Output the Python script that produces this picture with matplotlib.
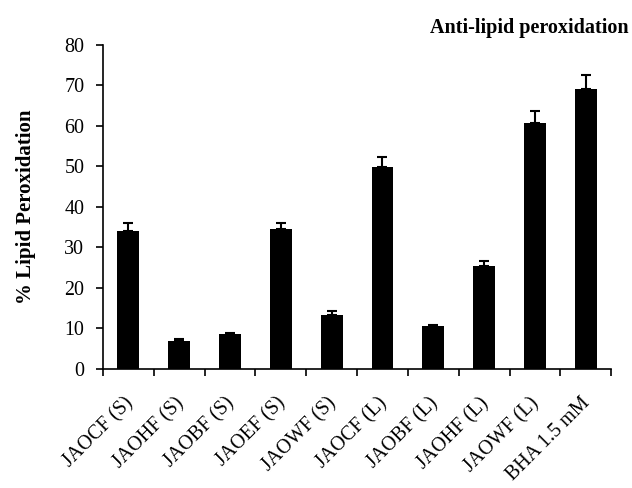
"""Anti-lipid peroxidation bar chart."""

import matplotlib

matplotlib.use("Agg")
import matplotlib.pyplot as plt
import matplotlib.transforms as mtransforms
import numpy as np

categories = [
    "JAOCF (S)", "JAOHF (S)", "JAOBF (S)", "JAOEF (S)", "JAOWF (S)",
    "JAOCF (L)", "JAOBF (L)", "JAOHF (L)", "JAOWF (L)", "BHA 1.5 mM",
]
values = [34.1, 7.0, 8.5, 34.6, 13.3, 49.9, 10.5, 25.3, 60.7, 69.1]
errors = [1.9, 0.4, 0.4, 1.4, 1.0, 2.4, 0.4, 1.4, 3.0, 3.5]
yticks = [0, 10, 20, 30, 40, 50, 60, 70, 80]

plt.rcParams["font.family"] = ["Liberation Serif", "DejaVu Serif"]

fig = plt.figure(figsize=(6.32, 4.88), dpi=100)
ax = fig.add_axes([0.163, 0.244, 0.804, 0.664])

x = np.arange(len(categories))
ax.bar(x, values, width=0.43, color="black", zorder=2)
ax.errorbar(x, values, yerr=[np.zeros(len(errors)), errors], fmt="none",
            ecolor="black", elinewidth=1.5, capsize=3.5, capthick=1.5, zorder=3)

ax.set_xlim(-0.5, len(categories) - 0.5)
ax.set_ylim(0, 80)
ax.set_yticks(yticks)
ax.set_xticks(np.arange(len(categories) + 1) - 0.5)
ax.set_xticklabels([])
ax.set_xticks(x, minor=True)
ax.set_xticklabels(categories, minor=True, rotation=45, ha="right",
                   rotation_mode="anchor", fontsize=14.4)
ax.tick_params(axis="x", which="minor", length=0, pad=18)
ax.tick_params(axis="x", which="major", length=5, width=1.2, direction="out")
ax.tick_params(axis="y", length=5, width=1.2, direction="out", labelsize=14.4, pad=8.5)

# nudge the rotated labels a bit left, like the original
shift = mtransforms.ScaledTranslation(-5 / 100, 0, fig.dpi_scale_trans)
for label in ax.get_xticklabels(minor=True):
    label.set_transform(label.get_transform() + shift)

for side in ("top", "right"):
    ax.spines[side].set_visible(False)
for side in ("left", "bottom"):
    ax.spines[side].set_linewidth(1.2)

ax.set_ylabel("% Lipid Peroxidation", fontsize=15, fontweight="bold", labelpad=20)
fig.text(0.995, 0.943, "Anti-lipid peroxidation", ha="right", va="center",
         fontsize=14.5, fontweight="bold")

fig.savefig("out.png", dpi=100)
